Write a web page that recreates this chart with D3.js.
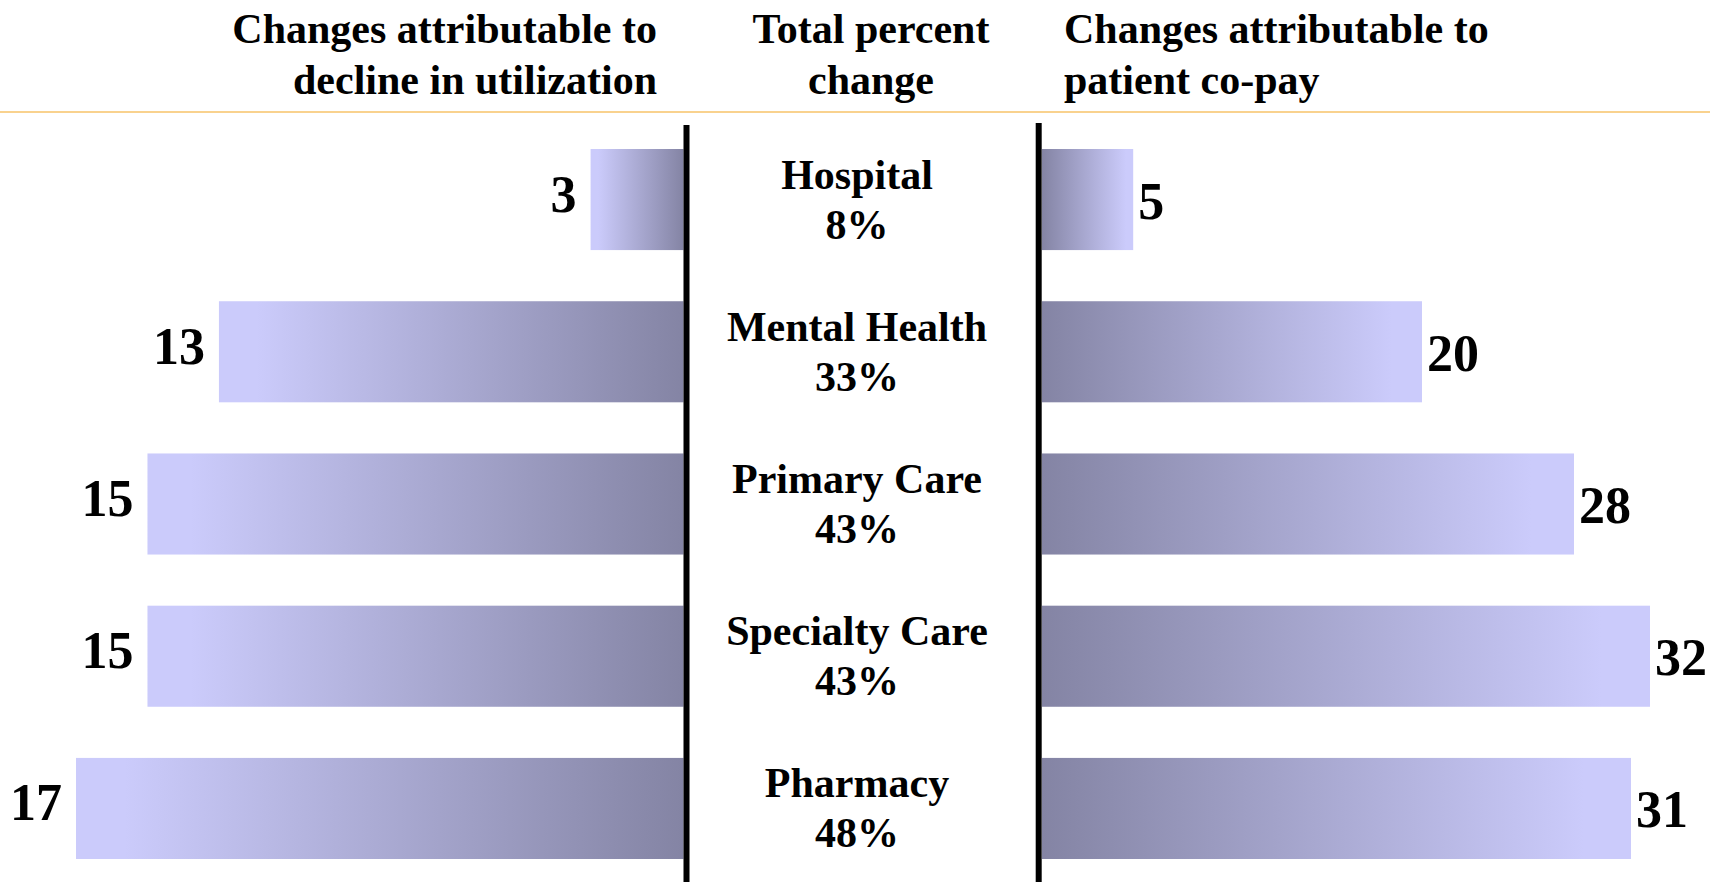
<!DOCTYPE html>
<html>
<head>
<meta charset="utf-8">
<style>
body{ margin:0; background:#fff; }
svg text{ font-family:"Times New Roman","Liberation Serif",serif; font-weight:bold; fill:#000; }
</style>
</head>
<body>
<svg id='svg'></svg>
<script src='https://cdnjs.cloudflare.com/ajax/libs/d3/7.8.5/d3.min.js'></script>
<script>
// data
var categories = ['Hospital', 'Mental Health', 'Primary Care', 'Specialty Care', 'Pharmacy']
var totalChange = [8, 33, 43, 43, 48]
var utilization = [2.6, 13, 15, 15, 17]   // bar lengths, labels rounded
var copay = [4.8, 20, 28, 32, 31]
var headLeft = ['Changes attributable to', 'decline in utilization']
var headMid = ['Total percent', 'change']
var headRight = ['Changes attributable to', 'patient co-pay']

var width = 1710, height = 882
var leftEdge = 683.5, rightEdge = 1042, midX = 857

var svg = d3.select('#svg').attr('width', width).attr('height', height)

var yScale = d3.scaleBand()
  .domain(categories)
  .range([149, 859])
  .paddingInner(0.336)
  .paddingOuter(0)

var xLeft = d3.scaleLinear().domain([0, 17]).range([leftEdge, 76])
var xRight = d3.scaleLinear().domain([0, 32]).range([rightEdge, 1650])
var fmt = d3.format('.0f')

// gradients
var defs = svg.append('defs')
var gl = defs.append('linearGradient').attr('id', 'gradL')
gl.append('stop').attr('offset', '0.08').attr('stop-color', '#cbcbfb')
gl.append('stop').attr('offset', '1').attr('stop-color', '#8484a4')
var gr = defs.append('linearGradient').attr('id', 'gradR')
gr.append('stop').attr('offset', '0').attr('stop-color', '#8484a4')
gr.append('stop').attr('offset', '0.92').attr('stop-color', '#cbcbfb')

// headers
function header(lines, x, anchor) {
  var t = svg.append('text').attr('text-anchor', anchor).style('font-size', '42px')
  lines.forEach(function(s, i) {
    t.append('tspan').attr('x', x).attr('y', 43 + i * 50.5).text(s)
  })
}
header(headLeft, 657, 'end')
header(headMid, 871, 'middle')
header(headRight, 1064, 'start')

svg.append('line')
  .attr('x1', 0).attr('x2', width).attr('y1', 112).attr('y2', 112)
  .attr('stroke', '#f9d28e').attr('stroke-width', 2)

// left bars
svg.selectAll('.barL')
  .data(utilization)
  .enter().append('rect')
  .attr('class', 'barL')
  .attr('x', function(d) { return xLeft(d) })
  .attr('y', function(d, i) { return yScale(categories[i]) })
  .attr('width', function(d) { return leftEdge - xLeft(d) })
  .attr('height', yScale.bandwidth())
  .style('fill', 'url(#gradL)')

svg.selectAll('.lblL')
  .data(utilization)
  .enter().append('text')
  .attr('class', 'lblL')
  .attr('text-anchor', 'end')
  .style('font-size', '52px')
  .attr('x', function(d) { return xLeft(d) - 14 })
  .attr('y', function(d, i) { return yScale(categories[i]) + yScale.bandwidth() / 2 + 12 })
  .text(function(d) { return fmt(d) })

// right bars
svg.selectAll('.barR')
  .data(copay)
  .enter().append('rect')
  .attr('class', 'barR')
  .attr('x', rightEdge)
  .attr('y', function(d, i) { return yScale(categories[i]) })
  .attr('width', function(d) { return xRight(d) - rightEdge })
  .attr('height', yScale.bandwidth())
  .style('fill', 'url(#gradR)')

svg.selectAll('.lblR')
  .data(copay)
  .enter().append('text')
  .attr('class', 'lblR')
  .style('font-size', '52px')
  .attr('x', function(d) { return xRight(d) + 5 })
  .attr('y', function(d, i) { return yScale(categories[i]) + yScale.bandwidth() / 2 + 19 })
  .text(function(d) { return fmt(d) })

// center labels
var mid = svg.selectAll('.mid')
  .data(categories)
  .enter().append('text')
  .attr('class', 'mid')
  .attr('text-anchor', 'middle')
  .style('font-size', '42px')
mid.append('tspan')
  .attr('x', midX)
  .attr('y', function(d) { return yScale(d) + yScale.bandwidth() / 2 - 11 })
  .text(function(d) { return d })
mid.append('tspan')
  .attr('x', midX)
  .attr('y', function(d) { return yScale(d) + yScale.bandwidth() / 2 + 39 })
  .text(function(d, i) { return totalChange[i] + '%' })

// divider lines
svg.append('line').attr('x1', 686.5).attr('x2', 686.5).attr('y1', 125).attr('y2', height)
  .attr('stroke', '#000').attr('stroke-width', 6)
svg.append('line').attr('x1', 1038.7).attr('x2', 1038.7).attr('y1', 123).attr('y2', height)
  .attr('stroke', '#000').attr('stroke-width', 6)
</script>
</body>
</html>
